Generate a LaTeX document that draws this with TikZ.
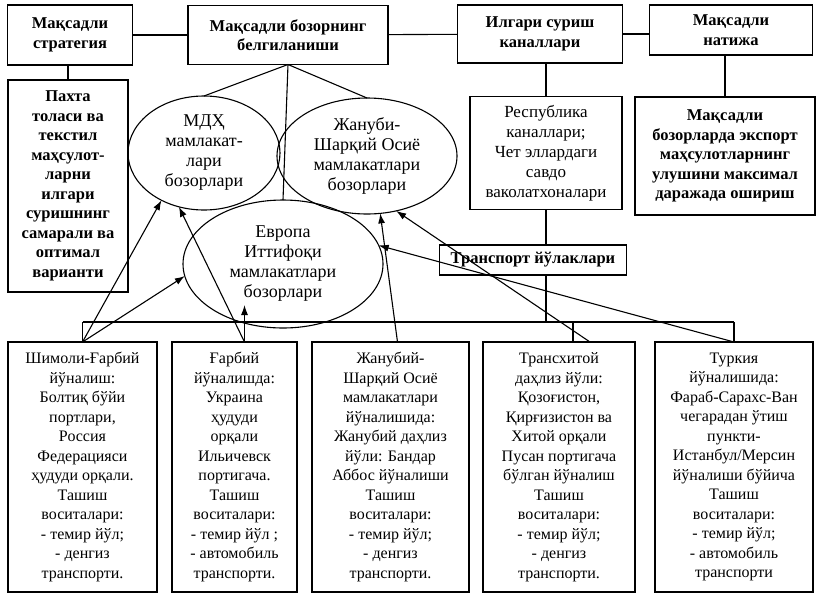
\documentclass[tikz,border=0pt]{standalone}
\usepackage{fontspec}
\setmainfont{Liberation Serif}
\usetikzlibrary{arrows.meta,shapes.geometric}

\begin{document}
\begin{tikzpicture}[x=1pt, y=-1pt,
        box/.style={rectangle, draw, line width=1.1pt, align=center, inner sep=1pt, outer sep=0pt, font=\fontsize{16}{19.5}\selectfont},
        hdr/.style={box, font=\bfseries\fontsize{16.5}{19.5}\selectfont},
        mkt/.style={ellipse, draw, line width=1.1pt, align=center, inner sep=0pt, outer sep=0pt, font=\fontsize{18}{20}\selectfont},
        way/.style={box, minimum width=#1, minimum height=250},
        link/.style={line width=1.1pt},
        arrow/.style={-{Latex[length=10pt, width=7pt]}, line width=1.1pt}
    ]
        \useasboundingbox (0,0) rectangle (817,598);

        % Top row
        \node[hdr, minimum width=125, minimum height=60] (strat) at (70,35) {Мақсадли\\стратегия};
        \node[hdr, minimum width=200, minimum height=59] (bozor) at (288,35) {Мақсадли бозорнинг\\белгиланиши};
        \node[hdr, minimum width=165, minimum height=58] (kanal) at (540,34) {Илгари суриш\\каналлари};
        \node[hdr, minimum width=163, minimum height=50] (natija) at (731,30) {Мақсадли\\натижа};

        \draw[link] (strat) -- (bozor);
        \draw[link] (bozor) -- (kanal);
        \draw[link] (kanal.east) -- (natija.west |- kanal.east);

        % Strategy
        \node[hdr, minimum width=120, minimum height=212] (pakhta) at (68,186)
            {Пахта\\толаси ва\\текстил\\маҳсулот-\\ларни\\илгари\\суришнинг\\самарали ва\\оптимал\\варианти};
        \draw[link] (strat.south -| pakhta.north) -- (pakhta.north);

        % Markets
        \node[mkt, minimum width=152, minimum height=114] (mdq) at (204,153) {МДҲ\\мамлакат-\\лари\\бозорлари};
        \node[mkt, minimum width=180, minimum height=116] (osiyo) at (367,156) {Жануби-\\Шарқий Осиё\\мамлакатлари\\бозорлари};
        \node[mkt, minimum width=200, minimum height=128] (evropa) at (283,264) {Европа\\Иттифоқи\\мамлакатлари\\бозорлари};
        \draw[link] (bozor.south) -- (mdq.north);
        \draw[link] (bozor.south) -- (evropa.north);
        \draw[link] (bozor.south) -- (osiyo.north);

        % Channels and result
        \node[box, font=\fontsize{17}{20}\selectfont, minimum width=152, minimum height=113] (respub) at (546,153)
            {Республика\\каналлари;\\Чет эллардаги\\савдо\\ваколатхоналари};
        \node[hdr, minimum width=180, minimum height=118] (ulush) at (725,156)
            {Мақсадли\\бозорларда экспорт\\маҳсулотларнинг\\улушини максимал\\даражада ошириш};
        \draw[link] (kanal.south -| respub.north) -- (respub.north);
        \draw[link] (natija.south -| ulush.north) -- (ulush.north);

        % Transport
        \node[hdr, minimum width=187, minimum height=30] (trans) at (533,260) {Транспорт йўлаклари};
        \draw[link] (respub.south) -- (respub.south |- trans.north);

        % Routes
        \node[way=149] (w1) at (82.5,467) {Шимоли-Ғарбий\\йўналиш:\\Болтиқ бўйи\\портлари,\\Россия\\Федерацияси\\ҳудуди орқали.\\Ташиш\\воситалари:\\- темир йўл;\\- денгиз\\транспорти.};
        \node[way=125] (w2) at (234.5,467) {Ғарбий\\йўналишда:\\Украина\\ҳудуди\\орқали\\Ильичевск\\портигача.\\Ташиш\\воситалари:\\- темир йўл ;\\- автомобиль\\транспорти.};
        \node[way=157] (w3) at (390.5,467) {Жанубий-\\Шарқий Осиё\\мамлакатлари\\йўналишида:\\Жанубий даҳлиз\\йўли: Бандар\\Аббос йўналиши\\Ташиш\\воситалари:\\- темир йўл;\\- денгиз\\транспорти.};
        \node[way=152] (w4) at (559,467) {Трансхитой\\даҳлиз йўли:\\Қозоғистон,\\Қирғизистон ва\\Хитой орқали\\Пусан портигача\\бўлган йўналиш\\Ташиш\\воситалари:\\- темир йўл;\\- денгиз\\транспорти.};
        \node[way=158] (w5) at (734,467) {Туркия\\йўналишида:\\Фараб-Сарахс-Ван\\чегарадан ўтиш\\пункти-\\Истанбул/Мерсин\\йўналиши бўйича\\Ташиш\\воситалари:\\- темир йўл;\\- автомобиль\\транспорти};

        % Bus line
        \coordinate (bus) at (0,322);
        \coordinate (evin) at (0,305);
        \draw[link] (trans.south -| respub.south) -- (respub.south |- bus);
        \draw[link] (w1.north |- bus) -- (w5.north |- bus);
        \draw[link] (w1.north) -- (w1.north |- bus);
        \draw[link] ([xshift=14]w4.north) -- ([xshift=14]w4.north |- bus);
        \draw[link] (w5.north) -- (w5.north |- bus);

        % Arrows to markets
        \draw[arrow] (w1.north) -- (mdq.228);
        \draw[arrow] (w1.north) -- (evropa.187);
        \draw[arrow] ([xshift=10]w2.north) -- (mdq.245);
        \draw[arrow] ([xshift=10]w2.north) -- ([xshift=10]w2.north |- evin);
        \draw[arrow] ([xshift=7]w3.north) -- (osiyo.283);
        \draw[arrow] ([xshift=31]w4.north) -- (osiyo.298);
        \draw[arrow] (w5.north) -- (evropa.11);
    \end{tikzpicture}
\end{document}
